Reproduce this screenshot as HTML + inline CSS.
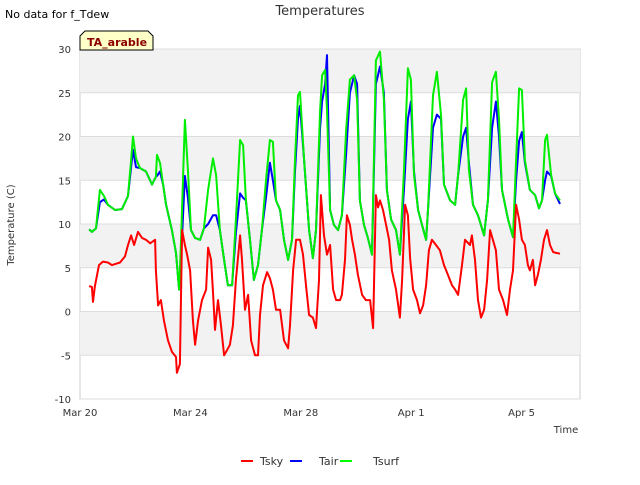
<!DOCTYPE html>
<html><head><meta charset="utf-8"><style>
body{margin:0;background:#fff;font-family:"Liberation Sans","DejaVu Sans",sans-serif}
svg text{font-family:"DejaVu Sans","Liberation Sans",sans-serif}
</style></head><body>
<svg id="c" width="640" height="480" viewBox="0 0 640 480">
<text x="5" y="18" font-size="11" fill="#000">No data for f_Tdew</text>
<text x="320" y="15" font-size="13" fill="#333" text-anchor="middle">Temperatures</text>
<g id="plot"></g>
<g>
<path d="M80,50 L80,36 L85,31 L148,31 L153,36 L153,50 Z" fill="#ffffc8" stroke="#000" stroke-width="1"/>
<text x="87" y="46" font-size="11" font-weight="bold" fill="#8b0000">TA_arable</text></g>
<text x="14" y="225" font-size="10" fill="#333" text-anchor="middle" transform="rotate(-90 14 225)">Temperature (C)</text>
<text x="566" y="433" font-size="10" fill="#333" text-anchor="middle">Time</text>
<g>
<g><line x1="241" y1="461" x2="253" y2="461" stroke="#f00" stroke-width="2"/><text x="260" y="465" font-size="11" fill="#333">Tsky</text></g>
<g><line x1="290" y1="461" x2="302" y2="461" stroke="#00f" stroke-width="2"/><text x="319" y="465" font-size="11" fill="#333">Tair</text></g>
<g><line x1="340" y1="461" x2="352" y2="461" stroke="#0f0" stroke-width="2"/><text x="373" y="465" font-size="11" fill="#333">Tsurf</text></g>
</g>
</svg>
<script>
const yTicks=[-10,-5,0,5,10,15,20,25,30];
const xTickDays=[0,4,8,12,16];
const xTickLabels=["Mar 20","Mar 24","Mar 28","Apr 1","Apr 5"];
const tSurfTimes=[0.33,0.43,0.58,0.72,0.87,1.01,1.27,1.52,1.74,1.85,1.92,2.03,2.17,2.39,2.61,2.75,2.79,2.90,3.01,3.12,3.33,3.48,3.59,3.66,3.80,3.91,4.02,4.17,4.35,4.49,4.64,4.82,4.93,5.07,5.22,5.36,5.51,5.65,5.80,5.91,6.01,6.16,6.30,6.45,6.59,6.74,6.88,6.99,7.10,7.25,7.39,7.54,7.68,7.79,7.90,7.97,8.12,8.30,8.44,8.55,8.70,8.77,8.88,8.95,9.06,9.20,9.35,9.49,9.64,9.78,9.93,10.04,10.14,10.29,10.43,10.58,10.72,10.87,11.01,11.12,11.27,11.45,11.59,11.74,11.88,11.99,12.10,12.25,12.39,12.54,12.61,12.79,12.93,13.08,13.19,13.41,13.59,13.70,13.88,13.99,14.09,14.24,14.42,14.64,14.78,14.93,15.07,15.18,15.29,15.51,15.69,15.80,15.91,16.01,16.12,16.30,16.49,16.63,16.74,16.85,16.92,17.07,17.21,17.39];
const tSurf=[9.4,9.1,9.5,13.9,13.2,12.2,11.6,11.7,13.2,17.3,20,17.5,16.4,16,14.5,15.4,17.9,17,14.5,12.2,9.3,6.7,2.5,8,21.9,16.2,9.3,8.4,8.2,9.5,13.9,17.5,15.6,9.3,5.9,3,3,10.5,19.6,19,12.7,8.2,3.6,5.3,9.3,15,19.6,19.4,12.7,11.6,8.2,5.9,8.2,17.3,24.7,25.1,17.3,9.3,6.1,9.3,23,27,27.6,23,11.6,9.9,9.3,11,20.7,26.5,27,24.2,12.7,9.9,8.4,6.5,28.7,29.7,24.2,13.9,10.5,9.3,6.5,16.2,27.8,26.5,15.6,11.6,9.9,8.2,11.6,24.7,27.4,22.5,14.5,12.7,12.2,15.6,24.2,25.5,16.2,12.2,11,8.7,12.7,26.2,27.4,22,13.9,10.5,8.5,17.3,25.5,25.3,17.3,13.9,13.3,11.8,12.7,19.6,20.2,15.6,13.5,12.7];
const tAir=[9.4,9.1,9.5,12.5,12.8,12.2,11.6,11.7,13.2,16.5,18.5,16.5,16.4,16,14.5,15.4,15.5,16,14.5,12.2,9.3,6.7,2.5,6,15.5,13,9.3,8.4,8.2,9.5,10,11,11,9.3,5.9,3,3,9,13.5,13,12.7,8.2,3.6,5.3,9.3,13,17,15,12.7,11.6,8.2,5.9,8.2,16,22,23.5,17.3,9.3,6.1,9.3,21,24,26,29.3,11.6,9.9,9.3,11,18,25,27,26,12.7,9.9,8.4,6.5,26,28,25,13.9,10.5,9.3,6.5,14,22,24,16,11.6,9.9,8.2,11.6,21,22.5,22,14.5,12.7,12.2,15.6,20,21,17,12.2,11,8.7,12.7,21,24,20,13.9,10.5,8.5,15,19.5,20.5,17,13.9,13.3,11.8,12.7,15,16,15.5,13.5,12.3];
const tSkyTimes=[0.33,0.43,0.47,0.54,0.69,0.83,1.01,1.16,1.45,1.63,1.74,1.85,1.96,2.10,2.25,2.39,2.54,2.72,2.75,2.83,2.93,3.04,3.19,3.33,3.48,3.51,3.62,3.70,3.80,3.88,3.99,4.09,4.17,4.28,4.42,4.57,4.64,4.75,4.82,4.89,5.00,5.11,5.22,5.33,5.43,5.54,5.65,5.80,5.87,5.98,6.09,6.20,6.34,6.45,6.52,6.63,6.78,6.88,6.99,7.10,7.25,7.39,7.54,7.61,7.72,7.83,7.97,8.08,8.19,8.30,8.44,8.55,8.66,8.73,8.84,8.95,9.06,9.17,9.28,9.42,9.49,9.60,9.67,9.78,9.86,9.96,10.07,10.22,10.36,10.51,10.62,10.72,10.80,10.87,10.98,11.09,11.20,11.30,11.45,11.59,11.67,11.78,11.88,11.96,12.07,12.21,12.32,12.43,12.54,12.64,12.75,12.90,13.04,13.19,13.33,13.48,13.59,13.70,13.84,13.95,14.13,14.20,14.31,14.42,14.53,14.64,14.75,14.86,14.96,15.07,15.18,15.33,15.47,15.58,15.69,15.80,15.91,16.01,16.12,16.23,16.30,16.41,16.49,16.59,16.70,16.81,16.92,17.03,17.14,17.25,17.39];
const tSky=[2.9,2.8,1.1,2.9,5.3,5.7,5.6,5.3,5.6,6.3,7.6,8.7,7.6,9.1,8.4,8.2,7.8,8.2,4.7,0.7,1.3,-1,-3.3,-4.6,-5.2,-7,-6,9.3,7.6,6.5,4.7,-1,-3.8,-1,1.3,2.5,7.3,5.9,2.2,-2.1,1.3,-1.6,-5,-4.4,-3.8,-1.6,3.6,8.7,5.9,0.2,1.9,-3.3,-5,-5,-0.4,3,4.5,3.8,2.5,0.2,0.2,-3.3,-4.2,-1.6,4.7,8.2,8.2,6.5,3,-0.4,-0.7,-1.9,3.6,13.3,8.7,6.5,7.6,2.5,1.3,1.3,1.9,5.9,11,9.9,8.2,6.5,4.2,1.9,1.3,1.3,-1.9,13.3,11.9,12.7,11.6,9.9,8.2,4.7,2.5,-0.7,3.6,12.2,11,6.1,2.5,1.3,-0.2,0.7,3,7,8.2,7.6,7,5.3,4.2,3,2.5,1.9,5.3,8.2,7.6,8.7,5.9,1.3,-0.7,0.2,3.6,9.3,8.2,7,2.5,1.3,-0.4,2.5,4.7,12.2,10.5,8.2,7.6,5.3,4.7,5.9,3,4.2,5.9,8.2,9.3,7.6,6.8,6.7,6.6];

const NS="http://www.w3.org/2000/svg";
const L=80,R=580,T=49,B=399;
const xS=d=>L+d*27.6;
const yS=v=>B-(v+10)*(B-T)/40;
const plot=document.getElementById('plot');
function mk(tag,at){const e=document.createElementNS(NS,tag);for(const k in at)e.setAttribute(k,at[k]);return e;}
const bg=mk('rect',{x:L,y:T,width:R-L,height:B-T,fill:'#fff',stroke:'#ccc'});


plot.appendChild(bg);
for(let i=0;i<yTicks.length-1;i++){
  if((yTicks.length-2-i)%2===0){
    const b=mk('rect',{x:L,y:yS(yTicks[i+1]),width:R-L,height:yS(yTicks[i])-yS(yTicks[i+1]),fill:'#f2f2f2'});
    
    
    plot.appendChild(b);
  }
}
yTicks.forEach(v=>{
  const g=mk('line',{x1:L,x2:R,y1:yS(v),y2:yS(v),stroke:'#ddd'});
  
  
  plot.appendChild(g);
  const t=mk('text',{x:L-9,y:yS(v)+4,'font-size':10,fill:'#333','text-anchor':'end'});
  t.textContent=v;
  
  
  plot.appendChild(t);
});
xTickDays.forEach((d,i)=>{
  const t=mk('text',{x:xS(d),y:B+17,'font-size':10,fill:'#333','text-anchor':'middle'});
  t.textContent=xTickLabels[i];
  
  
  plot.appendChild(t);
});
function series(ts,vs,col,name){
  const p=mk('polyline',{points:ts.map((t,i)=>xS(t).toFixed(1)+','+yS(vs[i]).toFixed(1)).join(' '),fill:'none',stroke:col,'stroke-width':2,'stroke-linejoin':'round'});
  
  
  plot.appendChild(p);
}
series(tSurfTimes,tAir,'#0000ff','tair-line');
series(tSurfTimes,tSurf,'#00ee00','tsurf-line');
series(tSkyTimes,tSky,'#ff0000','tsky-line');
</script>
</body></html>
